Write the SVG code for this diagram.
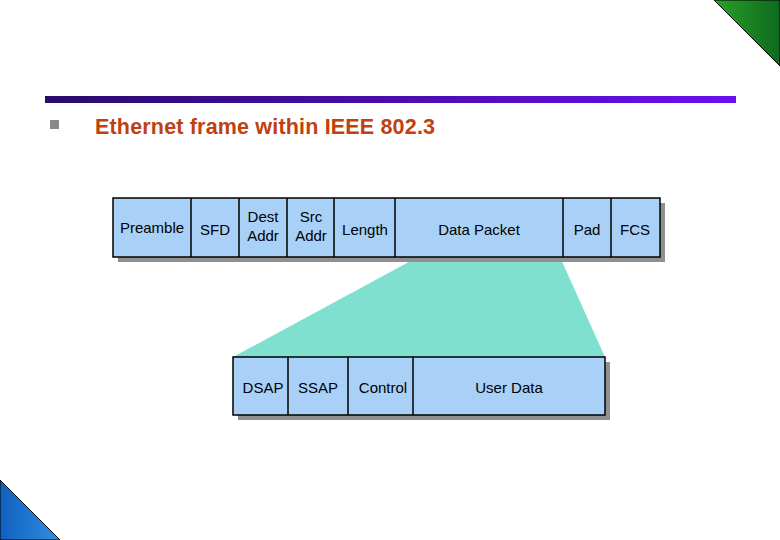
<svg xmlns="http://www.w3.org/2000/svg" width="780" height="540" viewBox="0 0 780 540">
<defs>
<linearGradient id="bar" x1="0" x2="1"><stop offset="0" stop-color="#2a0a6a"/><stop offset="1" stop-color="#6a10f0"/></linearGradient>
<linearGradient id="grn" x1="0" x2="1"><stop offset="0" stop-color="#2aa02a"/><stop offset="1" stop-color="#0e6a1e"/></linearGradient>
<linearGradient id="blu" x1="0" x2="1"><stop offset="0" stop-color="#1060c0"/><stop offset="1" stop-color="#3090e0"/></linearGradient>
<style>
.c{fill:#a9d1f7;stroke:#000;stroke-width:1.5}
.sh{fill:#909090}
text{font-family:"Liberation Sans",Arial,sans-serif;font-size:15px;fill:#000;text-anchor:middle}
</style>
</defs>
<polygon points="714,0 780,0 780,66" fill="url(#grn)" stroke="#000" stroke-width="1"/>
<polygon points="0,480 0,540 60,540" fill="url(#blu)" stroke="#000" stroke-width="1"/>
<rect x="45" y="96" width="691" height="7" fill="url(#bar)"/>
<rect x="50" y="120" width="9" height="9" fill="#888"/>
<text x="95" y="134" style="font-size:21.5px;font-weight:bold;fill:#c04010;text-anchor:start" textLength="340">Ethernet frame within IEEE 802.3</text>
<g id="connectors">
<polygon points="418,257 560,257 605,357 233,357" fill="#80e0d0"/>
</g>
<g id="frame">
<rect class="sh" x="118" y="203" width="547" height="59"/>
<rect class="c" x="113" y="198" width="547" height="59"/>
<path d="M191,198V257M239,198V257M287,198V257M334,198V257M395,198V257M563,198V257M611,198V257" stroke="#000" stroke-width="1.5"/>
<text x="152" y="233">Preamble</text>
<text x="215" y="235">SFD</text>
<text x="263" y="222">Dest</text><text x="263" y="241">Addr</text>
<text x="311" y="222">Src</text><text x="311" y="241">Addr</text>
<text x="365" y="235">Length</text>
<text x="479" y="235">Data Packet</text>
<text x="587" y="235">Pad</text>
<text x="635" y="235">FCS</text>
</g>
<g id="llc">
<rect class="sh" x="238" y="362" width="372" height="58"/>
<rect class="c" x="233" y="357" width="372" height="58"/>
<path d="M288,357V415M348,357V415M413,357V415" stroke="#000" stroke-width="1.5"/>
<text x="263" y="393">DSAP</text>
<text x="318" y="393">SSAP</text>
<text x="383" y="393">Control</text>
<text x="509" y="393">User Data</text>
</g>
</svg>
